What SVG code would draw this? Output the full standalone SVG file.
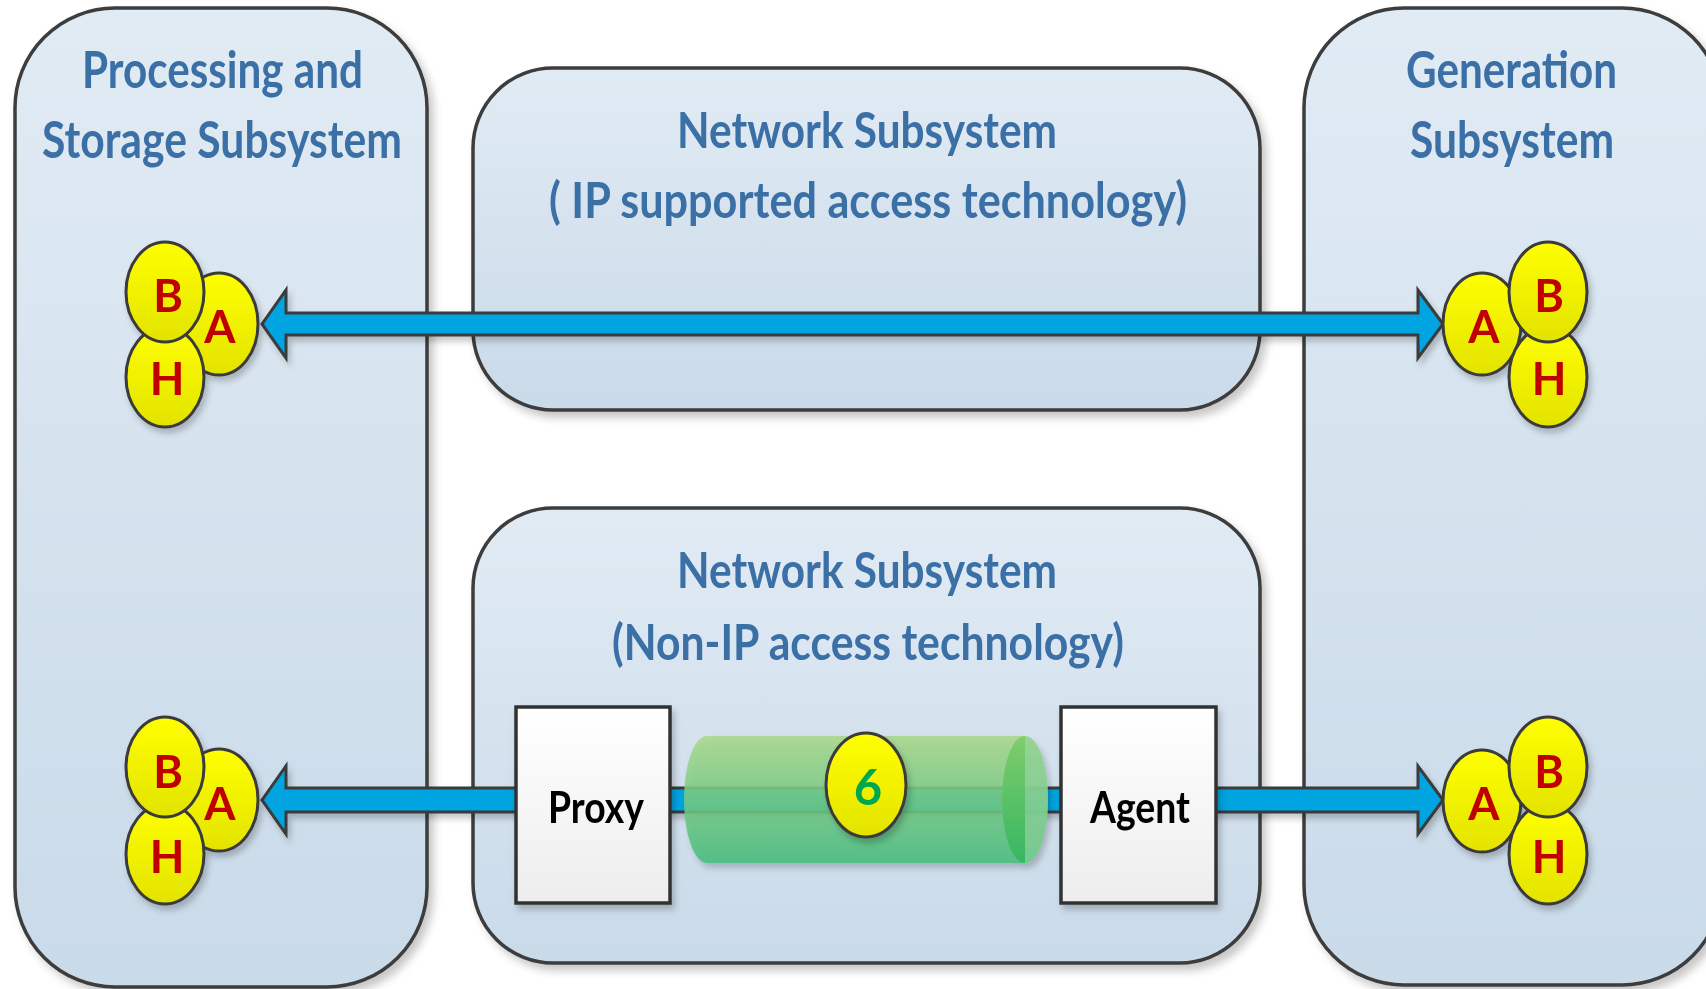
<svg xmlns="http://www.w3.org/2000/svg" width="1706" height="989" viewBox="0 0 1706 989">
  <defs>
    <linearGradient id="panelFill" x1="0" y1="0" x2="0" y2="1">
      <stop offset="0" stop-color="#E1EBF4"/>
      <stop offset="1" stop-color="#C9DAE9"/>
    </linearGradient>
    <linearGradient id="ballFill" x1="0" y1="0" x2="0" y2="1">
      <stop offset="0" stop-color="#FFFF00"/>
      <stop offset="1" stop-color="#E3E300"/>
    </linearGradient>
    <linearGradient id="boxFill" x1="0" y1="0" x2="0" y2="1">
      <stop offset="0" stop-color="#FFFFFF"/>
      <stop offset="1" stop-color="#EDEDED"/>
    </linearGradient>
    <linearGradient id="tubeFill" x1="0" y1="0" x2="0" y2="1">
      <stop offset="0" stop-color="#A8D888"/>
      <stop offset="1" stop-color="#45BC7C"/>
    </linearGradient>
    <linearGradient id="tubeEnd" x1="0" y1="0" x2="0" y2="1">
      <stop offset="0" stop-color="#78CC5E"/>
      <stop offset="1" stop-color="#22B253"/>
    </linearGradient>
    <filter id="shadow" x="-10%" y="-10%" width="125%" height="125%">
      <feDropShadow dx="5" dy="6" stdDeviation="4" flood-color="#000" flood-opacity="0.22"/>
    </filter>
    <filter id="softShadow" x="-20%" y="-20%" width="150%" height="150%">
      <feDropShadow dx="3" dy="5" stdDeviation="3" flood-color="#000" flood-opacity="0.22"/>
    </filter>
    <style>
      .panel { fill: url(#panelFill); stroke: #3C3C3C; stroke-width: 3.5; }
      .title { font-family: "Lato", "Liberation Sans", sans-serif; font-weight: bold; fill: #3B6FA6; }
      .ball { fill: url(#ballFill); stroke: #3A3A3A; stroke-width: 3; }
      .letter { font-family: "Lato", "Liberation Sans", sans-serif; font-weight: bold; font-size: 45px; fill: #C00000; text-anchor: middle; }
      .box { fill: url(#boxFill); stroke: #333333; stroke-width: 3.5; }
      .boxText { font-family: "Lato", "Liberation Sans", sans-serif; font-weight: bold; font-size: 43px; fill: #000000; }
      .link { fill: #00A4E0; stroke: #3A3A3A; stroke-width: 3; stroke-linejoin: miter; }
      .digit { font-family: "Lato", "Liberation Sans", sans-serif; font-weight: bold; font-size: 49px; fill: #00A651; text-anchor: middle; }
    </style>
  </defs>

  <rect width="1706" height="989" fill="#FFFFFF"/>

  <!-- containers -->
  <g id="processing-storage" filter="url(#shadow)">
    <rect class="panel" x="15" y="8" width="412" height="979" rx="100" ry="100"/>
    <text class="title" x="82" y="88" font-size="52" textLength="281" lengthAdjust="spacingAndGlyphs">Processing and</text>
    <text class="title" x="42" y="158" font-size="52" textLength="360" lengthAdjust="spacingAndGlyphs">Storage Subsystem</text>
  </g>

  <g id="generation" filter="url(#shadow)">
    <rect class="panel" x="1304" y="8" width="418" height="977" rx="100" ry="100"/>
    <text class="title" x="1406" y="88" font-size="52" textLength="211" lengthAdjust="spacingAndGlyphs">Generation</text>
    <text class="title" x="1410" y="158" font-size="52" textLength="204" lengthAdjust="spacingAndGlyphs">Subsystem</text>
  </g>

  <g id="network-ip" filter="url(#shadow)">
    <rect class="panel" x="473" y="68" width="787" height="342" rx="80" ry="80"/>
    <text class="title" x="677" y="148" font-size="50" textLength="380" lengthAdjust="spacingAndGlyphs">Network Subsystem</text>
    <text class="title" x="549" y="218" font-size="50" textLength="638" lengthAdjust="spacingAndGlyphs">( IP supported access technology)</text>
  </g>

  <g id="network-non-ip" filter="url(#shadow)">
    <rect class="panel" x="473" y="508" width="787" height="455" rx="80" ry="80"/>
    <text class="title" x="677" y="588" font-size="50" textLength="380" lengthAdjust="spacingAndGlyphs">Network Subsystem</text>
    <text class="title" x="612" y="660" font-size="50" textLength="512" lengthAdjust="spacingAndGlyphs">(Non-IP access technology)</text>
  </g>

  <!-- connectors -->
  <g id="connectors" filter="url(#softShadow)">
    <path class="link" d="M262,324 L286,290 L286,313 L1418,313 L1418,290 L1443,324 L1418,358 L1418,335 L286,335 L286,358 Z"/>
    <path class="link" d="M262,800 L286,766 L286,788 L1418,788 L1418,766 L1443,800 L1418,834 L1418,812 L286,812 L286,834 Z"/>
  </g>

  <!-- non-IP tunnel -->
  <g id="tunnel" filter="url(#softShadow)">
    <path d="M1025,736 L707,736 A23,63.5 0 0 0 707,863 L1025,863 A23,63.5 0 0 0 1025,736 Z" fill="url(#tubeFill)" opacity="0.86"/>
    <ellipse cx="1025" cy="799.5" rx="23" ry="63.5" fill="#8CD19A" opacity="0.6"/>
    <path d="M1025,736 A23,63.5 0 0 0 1025,863 Z" fill="url(#tubeEnd)" opacity="0.75"/>
  </g>

  <g id="proxy" filter="url(#softShadow)">
    <rect class="box" x="516" y="707" width="154" height="196"/>
    <text class="boxText" x="548" y="823" textLength="96" lengthAdjust="spacingAndGlyphs">Proxy</text>
  </g>

  <g id="agent" filter="url(#softShadow)">
    <rect class="box" x="1061" y="707" width="155" height="196"/>
    <text class="boxText" x="1090" y="823" textLength="100" lengthAdjust="spacingAndGlyphs">Agent</text>
  </g>

  <g id="hop-6" filter="url(#softShadow)">
    <ellipse class="ball" cx="866" cy="785" rx="40" ry="52"/>
    <text class="digit" x="868" y="805">6</text>
  </g>

  <!-- protocol stacks -->
  <g id="stack-ps-ip" filter="url(#softShadow)">
    <ellipse class="ball" cx="219" cy="324" rx="39" ry="51"/>
    <ellipse class="ball" cx="165" cy="377" rx="39" ry="50"/>
    <ellipse class="ball" cx="165" cy="292" rx="39" ry="50"/>
    <text class="letter" x="220" y="343">A</text>
    <text class="letter" x="167" y="395">H</text>
    <text class="letter" x="168" y="312">B</text>
  </g>

  <g id="stack-ps-nonip" filter="url(#softShadow)">
    <ellipse class="ball" cx="219" cy="800" rx="39" ry="51"/>
    <ellipse class="ball" cx="165" cy="854" rx="39" ry="50"/>
    <ellipse class="ball" cx="165" cy="767" rx="39" ry="50"/>
    <text class="letter" x="220" y="820">A</text>
    <text class="letter" x="167" y="873">H</text>
    <text class="letter" x="168" y="788">B</text>
  </g>

  <g id="stack-gen-ip" filter="url(#softShadow)">
    <ellipse class="ball" cx="1482" cy="324" rx="39" ry="51"/>
    <ellipse class="ball" cx="1548" cy="377" rx="39" ry="50"/>
    <ellipse class="ball" cx="1548" cy="292" rx="39" ry="50"/>
    <text class="letter" x="1484" y="343">A</text>
    <text class="letter" x="1549" y="395">H</text>
    <text class="letter" x="1549" y="312">B</text>
  </g>

  <g id="stack-gen-nonip" filter="url(#softShadow)">
    <ellipse class="ball" cx="1482" cy="801" rx="39" ry="51"/>
    <ellipse class="ball" cx="1548" cy="854" rx="39" ry="50"/>
    <ellipse class="ball" cx="1548" cy="767" rx="39" ry="50"/>
    <text class="letter" x="1484" y="820">A</text>
    <text class="letter" x="1549" y="873">H</text>
    <text class="letter" x="1549" y="788">B</text>
  </g>
</svg>
